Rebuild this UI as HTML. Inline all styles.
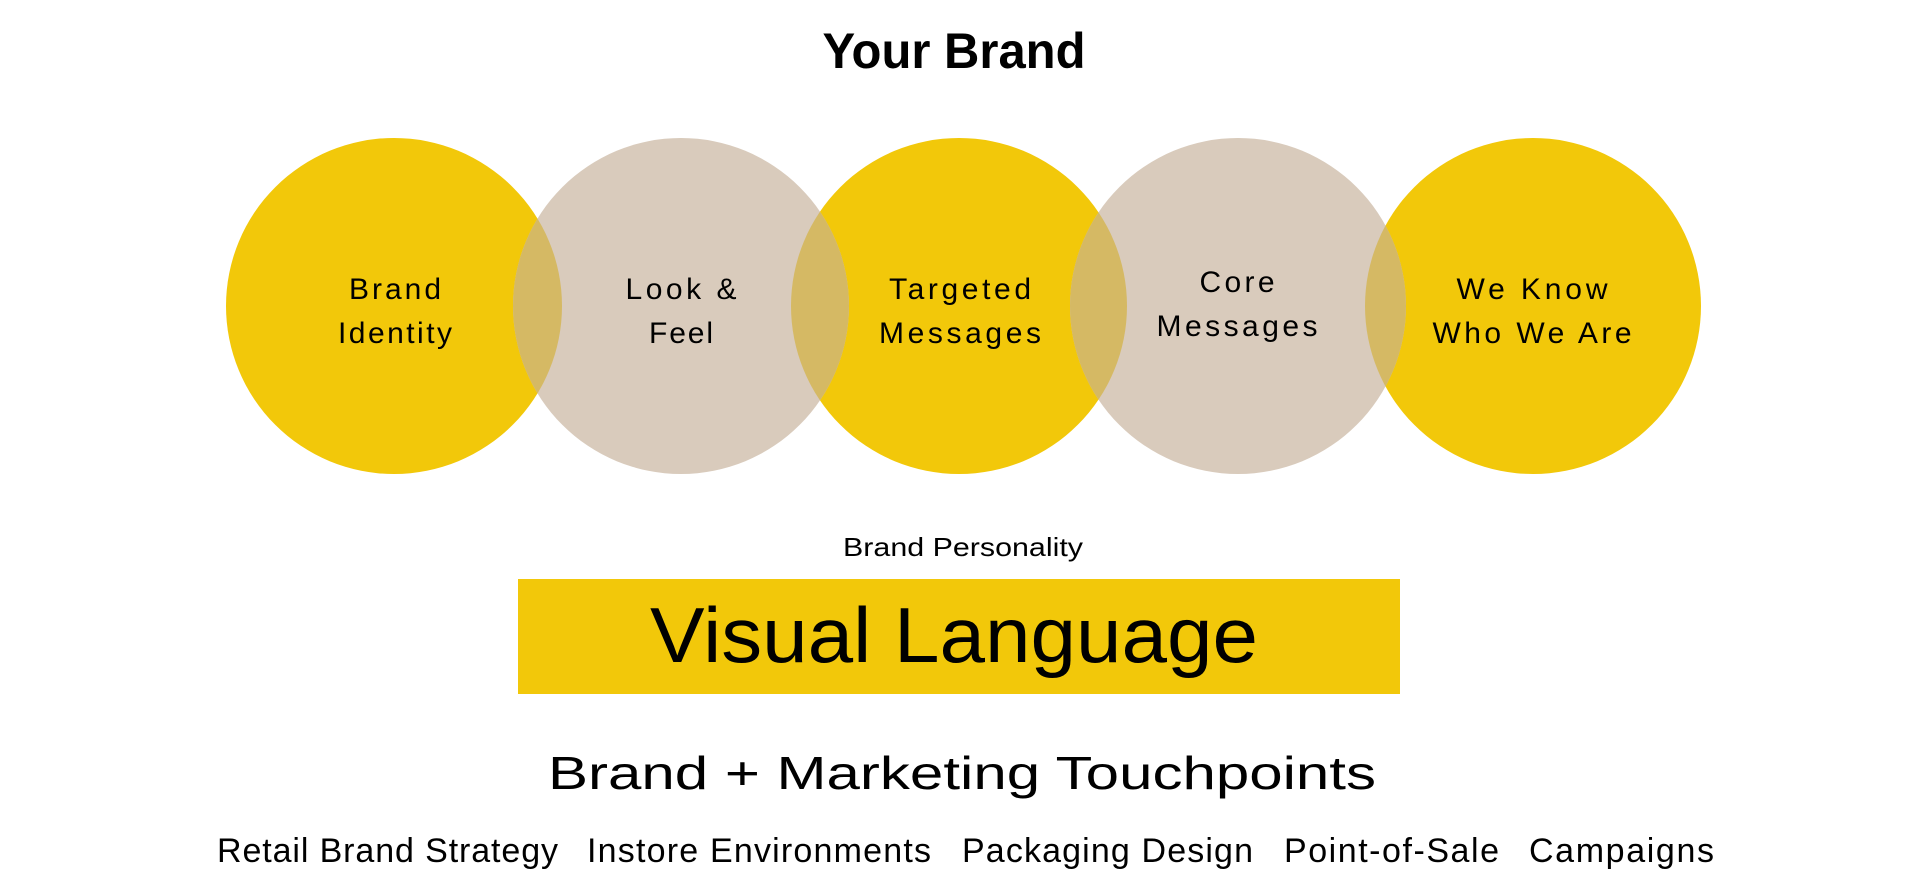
<!DOCTYPE html>
<html><head><meta charset="utf-8"><style>
html,body{margin:0;padding:0;background:#fff;}
svg{display:block;}
text{font-family:"Liberation Sans",sans-serif;fill:#000;}
</style></head><body>
<svg width="1921" height="894" viewBox="0 0 1921 894" xmlns="http://www.w3.org/2000/svg">
<defs>
<clipPath id="c1"><circle cx="394" cy="306" r="168"/></clipPath>
<clipPath id="c3"><circle cx="959" cy="306" r="168"/></clipPath>
<clipPath id="c5"><circle cx="1533" cy="306" r="168"/></clipPath>
</defs>
<text x="954" y="68" text-anchor="middle" font-size="50" font-weight="bold" textLength="263" lengthAdjust="spacingAndGlyphs">Your Brand</text>
<circle cx="394" cy="306" r="168" fill="#F2C80A"/>
<circle cx="959" cy="306" r="168" fill="#F2C80A"/>
<circle cx="1533" cy="306" r="168" fill="#F2C80A"/>
<circle cx="681" cy="306" r="168" fill="#D9CBBC"/>
<circle cx="1238" cy="306" r="168" fill="#D9CBBC"/>
<g fill="#D5B964">
<circle cx="681" cy="306" r="168" clip-path="url(#c1)"/>
<circle cx="681" cy="306" r="168" clip-path="url(#c3)"/>
<circle cx="1238" cy="306" r="168" clip-path="url(#c3)"/>
<circle cx="1238" cy="306" r="168" clip-path="url(#c5)"/>
</g>
<g font-size="30" text-anchor="middle" lengthAdjust="spacingAndGlyphs">
<text x="395" y="299" textLength="92">Brand</text>
<text x="395" y="343" textLength="114">Identity</text>
<text x="681" y="299" textLength="111">Look &amp;</text>
<text x="681" y="343" textLength="64">Feel</text>
<text x="960" y="299" textLength="142">Targeted</text>
<text x="960" y="343" textLength="162">Messages</text>
<text x="1237" y="292" textLength="75">Core</text>
<text x="1237" y="336" textLength="161">Messages</text>
<text x="1532" y="299" textLength="151">We Know</text>
<text x="1532" y="343" textLength="199">Who We Are</text>
</g>
<text x="963" y="556" text-anchor="middle" font-size="26" textLength="240" lengthAdjust="spacingAndGlyphs">Brand Personality</text>
<rect x="518" y="579" width="882" height="115" fill="#F2C80A"/>
<text x="954" y="662" text-anchor="middle" font-size="78" textLength="608" lengthAdjust="spacingAndGlyphs">Visual Language</text>
<text x="962" y="789" text-anchor="middle" font-size="46" textLength="828" lengthAdjust="spacingAndGlyphs">Brand + Marketing Touchpoints</text>
<g font-size="34" lengthAdjust="spacingAndGlyphs">
<text x="217" y="862" textLength="341">Retail Brand Strategy</text>
<text x="587" y="862" textLength="344">Instore Environments</text>
<text x="962" y="862" textLength="291">Packaging Design</text>
<text x="1284" y="862" textLength="215">Point-of-Sale</text>
<text x="1529" y="862" textLength="185">Campaigns</text>
</g>
</svg>
</body></html>
